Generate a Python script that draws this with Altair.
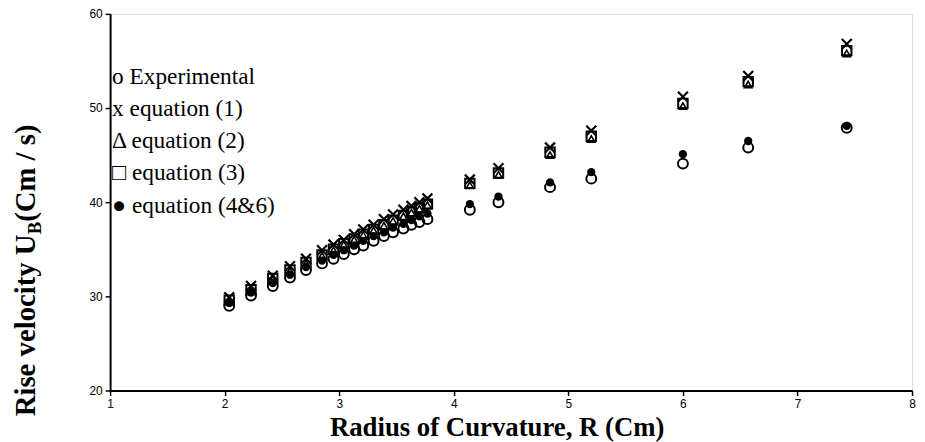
import altair as alt
import pandas as pd

# ---------------- data ----------------
R = [2.04, 2.23, 2.42, 2.57, 2.71, 2.85, 2.95, 3.04, 3.13, 3.21, 3.30, 3.39,
     3.47, 3.56, 3.63, 3.70, 3.77, 4.14, 4.39, 4.84, 5.20, 6.00, 6.57, 7.43]
experimental = [29.0, 30.1, 31.1, 32.0, 32.8, 33.5, 34.0, 34.5, 35.0, 35.4, 35.9, 36.4,
                36.8, 37.2, 37.6, 37.9, 38.2, 39.2, 40.0, 41.6, 42.5, 44.1, 45.8, 47.9]
eq1 = [29.9, 31.1, 32.2, 33.2, 34.0, 34.9, 35.5, 36.0, 36.6, 37.1, 37.6, 38.2,
       38.7, 39.2, 39.6, 40.0, 40.4, 42.4, 43.6, 45.8, 47.6, 51.2, 53.4, 56.8]
eq2 = [29.5, 30.6, 31.8, 32.7, 33.5, 34.3, 34.9, 35.5, 36.0, 36.5, 37.0, 37.5,
       38.0, 38.5, 38.9, 39.3, 39.7, 41.8, 42.9, 45.0, 46.7, 50.2, 52.5, 55.8]
eq3 = [29.6, 30.7, 31.9, 32.8, 33.6, 34.4, 35.0, 35.6, 36.1, 36.6, 37.1, 37.6,
       38.1, 38.6, 39.0, 39.4, 39.8, 42.0, 43.1, 45.3, 47.0, 50.5, 52.8, 56.1]
eq46 = [29.3, 30.4, 31.4, 32.3, 33.1, 33.8, 34.4, 34.9, 35.4, 35.9, 36.4, 36.8,
        37.3, 37.7, 38.1, 38.5, 38.8, 39.8, 40.6, 42.1, 43.2, 45.1, 46.5, 48.1]

legend_labels = ["o Experimental", "x equation (1)", "\u0394 equation (2)",
                 "\u25a1 equation (3)", "\u25cf equation (4&6)"]

x_title = "Radius of Curvature, R (Cm)"
y_title_parts = ["Rise velocity U", "B", "(Cm / s)"]

# ---------------- layout ----------------
W, H = 809, 380
SERIF = "Liberation Serif, Times New Roman, serif"
TICKFONT = "Liberation Sans Narrow, Arial Narrow, Liberation Sans, Arial"
TITLE_SIZE = 27
YTITLE_SIZE = 29

xs = alt.Scale(domain=[1, 8], nice=False, zero=False)
ys = alt.Scale(domain=[20, 60], nice=False, zero=False)

x_axis = alt.Axis(values=list(range(1, 9)), title=x_title, grid=False,
                  domainColor="black", domainWidth=2, tickColor="black",
                  tickWidth=1.5, tickSize=5, labelFont=TICKFONT, labelFontSize=12,
                  labelColor="black", labelPadding=3, titleFont=SERIF,
                  titleFontSize=TITLE_SIZE, titleFontWeight="bold", titleColor="black",
                  titlePadding=5, titleX=390, labelFlush=False)
y_axis = alt.Axis(values=list(range(20, 61, 10)), title=None, grid=False,
                  domainColor="black", domainWidth=2, tickColor="black",
                  tickWidth=1.5, tickSize=5, labelFont=TICKFONT, labelFontSize=12,
                  labelColor="black", labelPadding=3, labelFlush=False)


def series(vals, name):
    return pd.DataFrame({"R": R, "U": vals, "series": name})


def pts(df, shape, size, filled, sw):
    return alt.Chart(df).mark_point(
        shape=shape, size=size, filled=filled, color="black",
        strokeWidth=sw, opacity=1
    ).encode(
        x=alt.X("R:Q", scale=xs, axis=x_axis),
        y=alt.Y("U:Q", scale=ys, axis=y_axis),
    )


X_PATH = "M-1,-1L1,1M-1,1L1,-1"

layers = [
    pts(series(experimental, "Experimental"), "circle", 100, False, 2),
    pts(series(eq1, "eq1"), X_PATH, 100, False, 2.2),
    pts(series(eq2, "eq2"), "triangle-up", 55, False, 1.6),
    pts(series(eq3, "eq3"), "square", 90, False, 2),
    pts(series(eq46, "eq46"), "circle", 70, True, 1),
]

# in-plot legend text
leg_df = pd.DataFrame({"label": legend_labels,
                       "py": [64, 96, 128, 161, 194]})
legend = alt.Chart(leg_df).mark_text(
    font=SERIF, fontSize=23.5, align="left", baseline="middle", color="black"
).encode(
    x=alt.value(2),
    y=alt.Y("py:Q", scale=None, axis=None),
    text="label:N",
)

# rotated y title with subscript
F = YTITLE_SIZE
bold_w = {"R": 722, "i": 278, "s": 389, "e": 444, " ": 250, "v": 500, "l": 278,
          "o": 500, "c": 444, "t": 333, "y": 500, "U": 722, "B": 667, "(": 333,
          "C": 722, "m": 833, "/": 278, ")": 333}


def tw(s, size):
    return sum(bold_w.get(ch, 500) for ch in s) * size / 1000.0


start = 406  # bottom of title, plot coordinates
base_x = -76
w1 = tw(y_title_parts[0], F)
w2 = tw(y_title_parts[1], F * 0.65)
ytitle_df = pd.DataFrame({
    "t": y_title_parts,
    "px": [base_x, base_x + 6, base_x],
    "py": [start, start - w1, start - w1 - w2],
    "fs": [F, F * 0.65, F],
})
ytitle = alt.Chart(ytitle_df).mark_text(
    font=SERIF, fontWeight="bold", angle=270, align="left",
    baseline="alphabetic", color="black"
).encode(
    x=alt.X("px:Q", scale=None, axis=None),
    y=alt.Y("py:Q", scale=None, axis=None),
    size=alt.Size("fs:Q", scale=None, legend=None),
    text="t:N",
)

points = alt.layer(*layers)

chart = alt.layer(points, legend, ytitle).resolve_scale(
    x="independent", y="independent"
).properties(
    width=W, height=H,
    autosize=alt.AutoSizeParams(type="none"),
    padding={"left": 103, "top": 4, "right": 5, "bottom": 50},
).configure_view(
    stroke="#7a7a7a", strokeWidth=2
).configure(background="white")

chart.save("out.html", embed_options={"renderer": "svg", "actions": False})
